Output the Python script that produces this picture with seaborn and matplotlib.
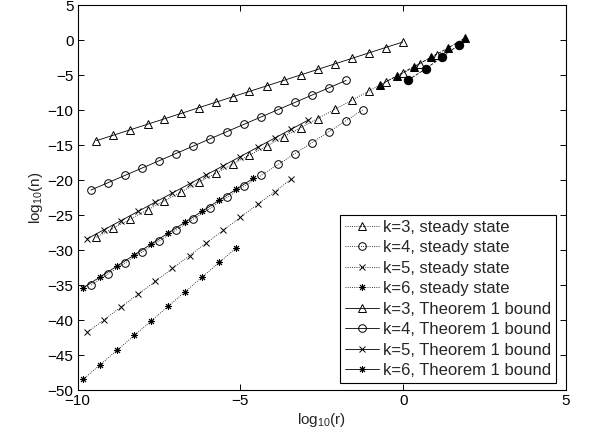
import numpy as np
import pandas as pd
import matplotlib
matplotlib.use('Agg')
import matplotlib.pyplot as plt
import seaborn as sns

# log10(r) grids, one per k
x_k3 = [-9.42, -8.90, -8.38, -7.85, -7.33, -6.81, -6.28, -5.76, -5.24, -4.72, -4.19,
        -3.67, -3.15, -2.63, -2.10, -1.58, -1.06, -0.54, -0.01, 0.51, 1.03]
x_k4 = [-9.59, -9.07, -8.55, -8.02, -7.50, -6.98, -6.45, -5.93, -5.41, -4.89, -4.36,
        -3.84, -3.32, -2.80, -2.27, -1.75, -1.23]
x_k5 = [-9.70, -9.18, -8.66, -8.13, -7.61, -7.09, -6.56, -6.04, -5.52, -5.00, -4.47,
        -3.95, -3.43, -2.91]
x_k6 = [-9.83, -9.31, -8.79, -8.26, -7.74, -7.22, -6.69, -6.17, -5.65, -5.13, -4.60]

# steady state log10(n)
steady_k3 = [-28.16, -26.86, -25.56, -24.23, -22.94, -21.64, -20.31, -19.01, -17.71, -16.41, -15.09,
             -13.79, -12.49, -11.19, -9.86, -8.56, -7.26, -5.96, -4.66, -3.36, -2.06]
steady_k4 = [-34.99, -33.43, -31.87, -30.28, -28.72, -27.16, -25.57, -24.01, -22.45, -20.89, -19.30,
             -17.74, -16.18, -14.62, -13.03, -11.47, -9.91]
steady_k5 = [-41.75, -39.93, -38.11, -36.26, -34.44, -32.62, -30.77, -28.95, -27.13, -25.31, -23.46,
             -21.64, -19.82]
steady_k6 = [-48.48, -46.40, -44.32, -42.20, -40.12, -38.04, -35.92, -33.84, -31.76, -29.68]

# Theorem 1 bound log10(n)
bound_k3 = [-14.34, -13.56, -12.78, -11.99, -11.21, -10.43, -9.63, -8.85, -8.07, -7.29, -6.50,
            -5.72, -4.94, -4.16, -3.36, -2.58, -1.80, -1.02, -0.23]
bound_k4 = [-21.40, -20.36, -19.32, -18.26, -17.22, -16.18, -15.12, -14.08, -13.04, -12.00, -10.94,
            -9.90, -8.86, -7.82, -6.76, -5.72]
bound_k5 = [-28.36, -27.06, -25.76, -24.43, -23.13, -21.83, -20.51, -19.21, -17.91, -16.61, -15.28,
            -13.98, -12.68, -11.38]
bound_k6 = [-35.40, -33.84, -32.28, -30.69, -29.13, -27.57, -25.98, -24.42, -22.86, -21.30, -19.71]

# extra filled points (not in legend)
fill_tri_x = [-0.71, -0.20, 0.33, 0.85, 1.38, 1.89]
fill_tri_y = [-6.37, -5.09, -3.76, -2.42, -1.08, 0.31]
fill_circ_x = [0.16, 0.69, 1.20, 1.71]
fill_circ_y = [-5.66, -4.06, -2.37, -0.65]

sns.set_style('ticks')
plt.rcParams['font.family'] = ['Liberation Sans', 'DejaVu Sans']
plt.rcParams['mathtext.fontset'] = 'custom'
plt.rcParams['mathtext.rm'] = 'Liberation Sans'
plt.rcParams['mathtext.it'] = 'Liberation Sans'

fig = plt.figure(figsize=(5.92, 4.36), dpi=100)
ax = fig.add_axes([0.131, 0.1055, 0.825, 0.882])

lw = 0.6
series = [
    (x_k3, steady_k3, '^', ':', 6, 'k=3, steady state'),
    (x_k4, steady_k4, 'o', ':', 5.5, 'k=4, steady state'),
    (x_k5, steady_k5, 'x', ':', 4, 'k=5, steady state'),
    (x_k6, steady_k6, (8, 2, 0), ':', 5, 'k=6, steady state'),
    (x_k3, bound_k3, '^', '-', 6, 'k=3, Theorem 1 bound'),
    (x_k4, bound_k4, 'o', '-', 5.5, 'k=4, Theorem 1 bound'),
    (x_k5, bound_k5, 'x', '-', 4, 'k=5, Theorem 1 bound'),
    (x_k6, bound_k6, (8, 2, 0), '-', 5, 'k=6, Theorem 1 bound'),
]

handles = []
for xs, ys, mk, ls, ms, lab in series:
    df = pd.DataFrame({'x': xs[:len(ys)], 'y': ys})
    sns.lineplot(data=df, x='x', y='y', ax=ax, color='k', linestyle=ls, linewidth=lw,
                 marker=mk, markersize=ms, markerfacecolor='none', markeredgecolor='k',
                 markeredgewidth=0.7, sort=False, label=lab, legend=False)
    handles.append(ax.lines[-1])

# filled markers with dashed lines
sns.lineplot(x=fill_tri_x, y=fill_tri_y, ax=ax, color='k', linestyle='--', linewidth=lw,
             marker='^', markersize=6, markerfacecolor='k', markeredgecolor='k', sort=False)
sns.lineplot(x=fill_circ_x, y=fill_circ_y, ax=ax, color='k', linestyle='--', linewidth=lw,
             marker='o', markersize=6, markerfacecolor='k', markeredgecolor='k', sort=False)

ax.set_xlim(-10, 5)
ax.set_ylim(-50, 5)
ax.set_xticks([-10, -5, 0, 5])
ax.set_yticks(np.arange(-50, 6, 5))
ax.set_xticklabels(['\u221210', '\u22125', '0', '5'])
ax.set_yticklabels(['\u2212%d' % -v if v < 0 else '%d' % v for v in range(-50, 6, 5)])
ax.tick_params(direction='in', length=4, width=0.7, labelsize=11, colors='k',
               top=True, right=True, pad=3)
for sp in ax.spines.values():
    sp.set_linewidth(0.8)
    sp.set_color('k')

ax.set_xlabel('log$_{10}$(r)', fontsize=11, labelpad=2)
ax.set_ylabel('log$_{10}$(n)', fontsize=11, labelpad=2)

leg = ax.legend(handles=handles, loc='lower right', bbox_to_anchor=(0.9795, 0.0174),
                borderaxespad=0, fontsize=12, frameon=True, fancybox=False,
                edgecolor='k', framealpha=1, labelspacing=0.33, handlelength=2.0,
                handletextpad=0.25, borderpad=0.3)
leg.get_frame().set_linewidth(0.8)

plt.savefig('out.png', dpi=100)
